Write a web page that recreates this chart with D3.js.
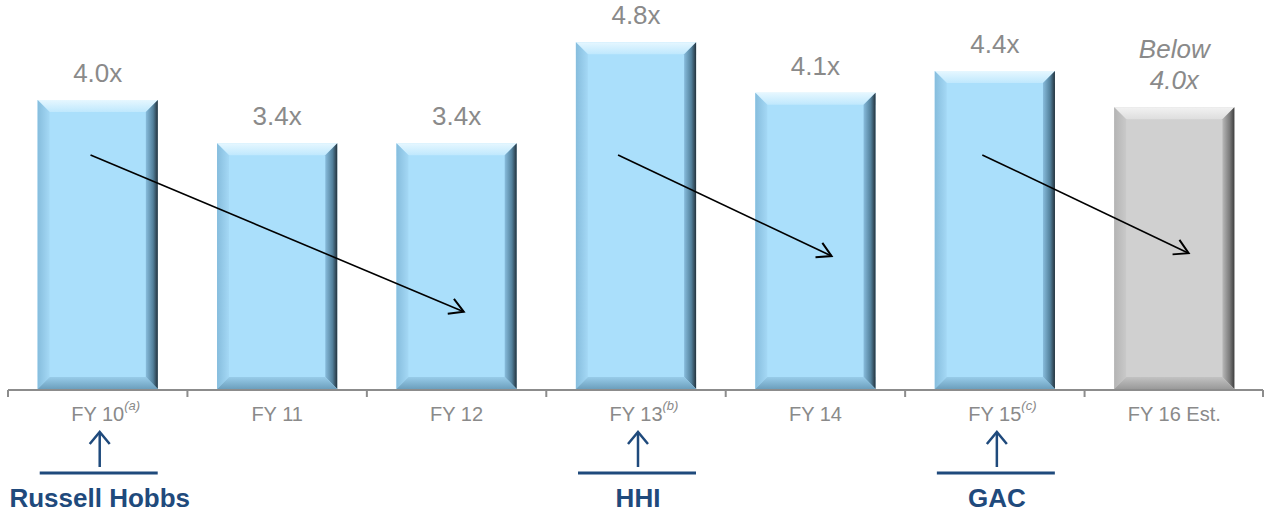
<!DOCTYPE html>
<html>
<head>
<meta charset="utf-8">
<script src="https://cdn.jsdelivr.net/npm/d3@7"></script>
<style>
  html, body { margin: 0; padding: 0; background: #fff; }
  svg { display: block; font-family: Arial, "Liberation Sans", sans-serif; }
</style>
</head>
<body>
<svg id="chart" width="1264" height="514"></svg>
<script>
// Leverage by fiscal year
const categories = ["FY 10", "FY 11", "FY 12", "FY 13", "FY 14", "FY 15", "FY 16 Est."];
const footnotes  = ["(a)", "", "", "(b)", "", "(c)", ""];
const values     = [4.0, 3.4, 3.4, 4.8, 4.1, 4.4, 3.9];
const valueLabels = ["4.0x", "3.4x", "3.4x", "4.8x", "4.1x", "4.4x", "Below\n4.0x"];
const estimated  = [false, false, false, false, false, false, true];

// Acquisitions below the axis
const acquisitions = [
  { name: "Russell Hobbs", category: "FY 10" },
  { name: "HHI", category: "FY 13" },
  { name: "GAC", category: "FY 15" }
];

// Deleveraging trend arrows: [category, offset within band, value]
const trendFrom = [["FY 10", -0.04, 3.24], ["FY 13", -0.10, 3.24], ["FY 15", -0.07, 3.24]];
const trendTo   = [["FY 12",  0.04, 1.07], ["FY 14",  0.09, 1.84], ["FY 16 Est.", 0.08, 1.88]];

const svg = d3.select("#chart");
const baseY = 389;

const x = d3.scaleBand().domain(categories).range([8, 1264]).paddingInner(0.33).paddingOuter(0.165);
const xOuter = d3.scaleBand().domain(categories).range([8, 1264]);
const y = d3.scaleLinear().domain([0, 4]).range([baseY, 100]);

const defs = svg.append("defs");

function grad(id, x1, y1, x2, y2, stops) {
  const g = defs.append("linearGradient").attr("id", id)
    .attr("x1", x1).attr("y1", y1).attr("x2", x2).attr("y2", y2);
  stops.forEach(s => g.append("stop").attr("offset", s[0]).attr("stop-color", s[1]));
}

const palettes = {
  blue: {
    face: "#aadffb",
    top: [["0", "#e6f7ff"], ["1", "#bfe8fd"]],
    left: [["0", "#86bddd"], ["1", "#a4d8f5"]],
    right: [["0", "#88bcdc"], ["0.6", "#53819c"], ["1", "#24323c"]],
    bottom: [["0", "#98cce9"], ["1", "#6c9fbd"]]
  },
  gray: {
    face: "#d0d0d0",
    top: [["0", "#f2f2f2"], ["1", "#dedede"]],
    left: [["0", "#b4b4b4"], ["1", "#c9c9c9"]],
    right: [["0", "#b8b8b8"], ["0.6", "#7c7c7c"], ["1", "#3e3e3e"]],
    bottom: [["0", "#c2c2c2"], ["1", "#9a9a9a"]]
  }
};
Object.entries(palettes).forEach(([k, p]) => {
  grad(k + "-top", 0, 0, 0, 1, p.top);
  grad(k + "-left", 0, 0, 1, 0, p.left);
  grad(k + "-right", 0, 0, 1, 0, p.right);
  grad(k + "-bottom", 0, 0, 0, 1, p.bottom);
});

const bevel = 12;
svg.append("g").selectAll("g").data(categories).join("g")
  .each(function (c, i) {
    const g = d3.select(this);
    const key = estimated[i] ? "gray" : "blue";
    const x0 = x(c), x1 = x(c) + x.bandwidth();
    const y0 = y(values[i]), y1 = baseY;
    const b = bevel;
    g.append("rect").attr("x", x0).attr("y", y0).attr("width", x1 - x0).attr("height", y1 - y0)
      .attr("fill", palettes[key].face);
    const poly = (pts, fill) => g.append("polygon").attr("points", pts.map(p => p.join(",")).join(" ")).attr("fill", fill);
    poly([[x0, y0], [x1, y0], [x1 - b, y0 + b], [x0 + b, y0 + b]], `url(#${key}-top)`);
    poly([[x0, y0], [x0 + b, y0 + b], [x0 + b, y1 - b], [x0, y1]], `url(#${key}-left)`);
    poly([[x1, y0], [x1, y1], [x1 - b, y1 - b], [x1 - b, y0 + b]], `url(#${key}-right)`);
    poly([[x0, y1], [x0 + b, y1 - b], [x1 - b, y1 - b], [x1, y1]], `url(#${key}-bottom)`);
  });

// Value labels
svg.append("g").selectAll("text").data(categories).join("text")
  .attr("x", c => x(c) + x.bandwidth() / 2)
  .attr("y", (c, i) => y(values[i]) - 18)
  .attr("text-anchor", "middle")
  .attr("font-size", 26)
  .attr("fill", "#8a8a8a")
  .attr("font-style", (c, i) => estimated[i] ? "italic" : "normal")
  .each(function (c, i) {
    const lines = valueLabels[i].split("\n");
    const t = d3.select(this);
    lines.forEach((l, j) => {
      t.append("tspan").attr("x", x(c) + x.bandwidth() / 2)
        .attr("dy", j === 0 ? -(lines.length - 1) * 31 : 31).text(l);
    });
  });

// Axis
const axis = svg.append("g").attr("stroke", "#8c8c8c").attr("stroke-width", 2).attr("fill", "none");
axis.append("line").attr("x1", 8).attr("x2", 1263).attr("y1", baseY + 1).attr("y2", baseY + 1);
const tickXs = categories.map(c => xOuter(c)).concat([xOuter(categories[categories.length - 1]) + xOuter.bandwidth() - 1]);
axis.selectAll("line.tick").data(tickXs).join("line").attr("class", "tick")
  .attr("x1", d => d).attr("x2", d => d).attr("y1", baseY + 1).attr("y2", baseY + 8);

// Category labels, centred on the band, with footnote markers hanging after them
const catLabels = svg.append("g").selectAll("g").data(categories).join("g");
catLabels.append("text")
  .attr("class", "cat")
  .attr("x", c => xOuter(c) + xOuter.bandwidth() / 2)
  .attr("y", 421)
  .attr("text-anchor", "middle")
  .attr("font-size", 20)
  .attr("fill", "#8a8a8a")
  .text(c => c);
catLabels.each(function (c, i) {
  if (!footnotes[i]) return;
  const g = d3.select(this);
  const w = g.select("text.cat").node().getComputedTextLength();
  g.append("text")
    .attr("x", xOuter(c) + xOuter.bandwidth() / 2 + w / 2)
    .attr("y", 410)
    .attr("font-size", 13)
    .attr("font-style", "italic")
    .attr("fill", "#8a8a8a")
    .text(footnotes[i]);
});

// Trend arrows
defs.append("marker").attr("id", "open-arrow").attr("viewBox", "0 0 20 20")
  .attr("refX", 18).attr("refY", 10).attr("markerWidth", 20).attr("markerHeight", 20)
  .attr("markerUnits", "userSpaceOnUse").attr("orient", "auto")
  .append("path").attr("d", "M4,2 L18,10 L4,18").attr("fill", "none")
  .attr("stroke", "#000").attr("stroke-width", 2);

svg.append("g").selectAll("line").data(trendFrom).join("line")
  .attr("x1", d => xOuter(d[0]) + xOuter.bandwidth() * (0.5 + d[1]))
  .attr("y1", d => y(d[2]))
  .attr("x2", (d, i) => xOuter(trendTo[i][0]) + xOuter.bandwidth() * (0.5 + trendTo[i][1]))
  .attr("y2", (d, i) => y(trendTo[i][2]))
  .attr("stroke", "#000").attr("stroke-width", 1.6)
  .attr("marker-end", "url(#open-arrow)");

// Acquisition callouts
const navy = "#1f4a7c";
const acq = svg.append("g").selectAll("g").data(acquisitions).join("g")
  .attr("transform", d => `translate(${xOuter(d.category) + xOuter.bandwidth() / 2 + 2},0)`);
acq.append("line").attr("x1", 0).attr("x2", 0).attr("y1", 433).attr("y2", 467)
  .attr("stroke", navy).attr("stroke-width", 2.5);
acq.append("path").attr("d", "M-10,444 L0,432 L10,444").attr("fill", "none")
  .attr("stroke", navy).attr("stroke-width", 2.5);
acq.append("line").attr("x1", -60).attr("x2", 58).attr("y1", 473).attr("y2", 473)
  .attr("stroke", navy).attr("stroke-width", 3);
acq.append("text").attr("x", 0).attr("y", 507).attr("text-anchor", "middle")
  .attr("font-size", 26).attr("font-weight", "bold").attr("fill", navy)
  .text(d => d.name);
</script>
</body>
</html>
